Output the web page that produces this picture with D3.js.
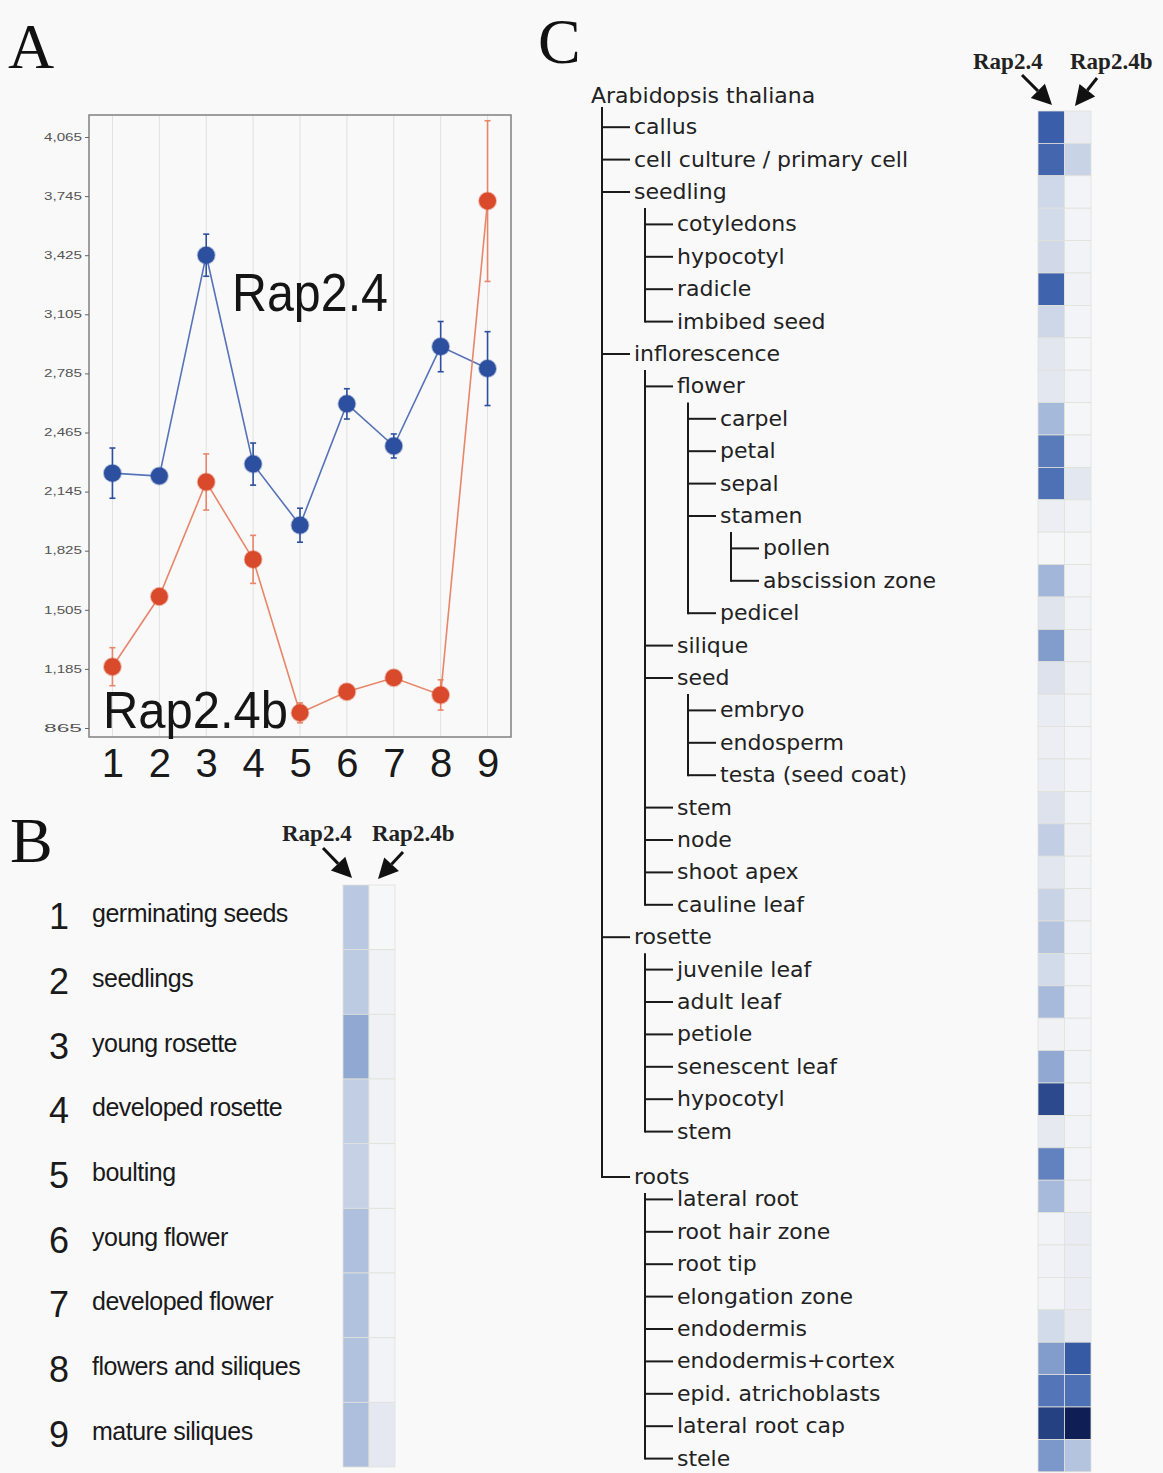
<!DOCTYPE html>
<html><head><meta charset="utf-8">
<script src="https://cdn.jsdelivr.net/npm/d3@7"></script>
<style>body{margin:0;background:#f9f9fa;} svg{display:block;}</style>
</head><body>
<svg id="chart" width="1163" height="1473"></svg>
<script>
// ---------- Data ----------
const stages = [1, 2, 3, 4, 5, 6, 7, 8, 9];
const rap24 = [2245, 2229, 3425, 2294, 1963, 2620, 2392, 2930, 2811];
const rap24Err = [136, 27, 114, 114, 92, 82, 65, 136, 200];
const rap24b = [1197, 1577, 2197, 1778, 947, 1061, 1137, 1044, 3718];
const rap24bErr = [103, 43, 152, 130, 54, 33, 33, 82, 435];
const yTicks = [865, 1185, 1505, 1825, 2145, 2465, 2785, 3105, 3425, 3745, 4065];

const genes = ["Rap2.4", "Rap2.4b"];
const stageNames = ["germinating seeds", "seedlings", "young rosette", "developed rosette", "boulting",
  "young flower", "developed flower", "flowers and siliques", "mature siliques"];
const stageRap24 = [0.37, 0.36, 0.55, 0.33, 0.31, 0.42, 0.41, 0.41, 0.43];
const stageRap24b = [0.01, 0.05, 0.06, 0.05, 0.03, 0.03, 0.03, 0.04, 0.13];

const treeRoot = "Arabidopsis thaliana";
const tissues = ["callus", "cell culture / primary cell", "seedling", "cotyledons", "hypocotyl", "radicle",
  "imbibed seed", "inflorescence", "flower", "carpel", "petal", "sepal", "stamen", "pollen",
  "abscission zone", "pedicel", "silique", "seed", "embryo", "endosperm", "testa (seed coat)", "stem",
  "node", "shoot apex", "cauline leaf", "rosette", "juvenile leaf", "adult leaf", "petiole",
  "senescent leaf", "hypocotyl", "stem", "roots", "lateral root", "root hair zone", "root tip",
  "elongation zone", "endodermis", "endodermis+cortex", "epid. atrichoblasts", "lateral root cap", "stele"];
const tissueDepth = [1, 1, 1, 2, 2, 2, 2, 1, 2, 3, 3, 3, 3, 4, 4, 3, 2, 2, 3, 3, 3, 2, 2, 2, 2,
  1, 2, 2, 2, 2, 2, 2, 1, 2, 2, 2, 2, 2, 2, 2, 2, 2];
const tissueRap24 = [0.85, 0.82, 0.26, 0.24, 0.25, 0.83, 0.27, 0.15, 0.14, 0.47, 0.74, 0.78, 0.08, 0.02,
  0.49, 0.16, 0.60, 0.18, 0.10, 0.08, 0.09, 0.18, 0.33, 0.15, 0.30, 0.40, 0.24, 0.46, 0.06, 0.55,
  0.90, 0.12, 0.71, 0.46, 0.04, 0.05, 0.04, 0.24, 0.60, 0.76, 0.92, 0.62];
const tissueRap24b = [0.10, 0.30, 0.03, 0.03, 0.04, 0.05, 0.03, 0.02, 0.03, 0.02, 0.03, 0.14, 0.04, 0.02,
  0.03, 0.04, 0.05, 0.06, 0.04, 0.03, 0.03, 0.04, 0.06, 0.04, 0.05, 0.04, 0.03, 0.03, 0.03, 0.04,
  0.03, 0.04, 0.03, 0.05, 0.10, 0.09, 0.09, 0.12, 0.86, 0.78, 1.00, 0.40];

// ---------- Setup ----------
const svg = d3.select("#chart");
const heat = d3.scaleLinear()
  .domain([0, 0.15, 0.3, 0.5, 0.7, 0.85, 1])
  .range(["#f7f8fa", "#e2e6ee", "#c8d3e6", "#9fb4d8", "#6585c0", "#3a5eaa", "#0f1f55"]);

function panelLetter(t, x, y) {
  svg.append("text").attr("x", x).attr("y", y).text(t)
    .attr("font-family", "'Liberation Serif','Times New Roman',serif")
    .attr("font-size", 64).attr("fill", "#111");
}
function arrow(x1, y1, x2, y2) {
  const a = Math.atan2(y2 - y1, x2 - x1), L = 20, W = 10;
  const bx = x2 - L * Math.cos(a), by = y2 - L * Math.sin(a);
  svg.append("line").attr("x1", x1).attr("y1", y1).attr("x2", bx).attr("y2", by)
    .attr("stroke", "#111").attr("stroke-width", 3);
  const p = [[x2, y2], [bx + W * Math.sin(a), by - W * Math.cos(a)], [bx - W * Math.sin(a), by + W * Math.cos(a)]];
  svg.append("path").attr("d", "M" + p.join("L") + "Z").attr("fill", "#111");
}
function geneHeader(x1, x2, y) {
  [[genes[0], x1], [genes[1], x2]].forEach(([t, x]) => {
    svg.append("text").attr("x", x).attr("y", y).text(t)
      .attr("font-family", "'Liberation Serif','Times New Roman',serif")
      .attr("font-weight", "bold").attr("font-size", 23).attr("fill", "#222");
  });
}

// ---------- Panel A ----------
panelLetter("A", 8, 68);
const x = d3.scalePoint().domain(stages).range([89, 511]).padding(0.5);
const y = d3.scaleLinear().domain([865, 4065]).range([728, 137]);
const gA = svg.append("g");
gA.selectAll("line.grid").data(stages).join("line")
  .attr("x1", d => x(d)).attr("x2", d => x(d)).attr("y1", 115).attr("y2", 737)
  .attr("stroke", "#e0e0e0").attr("stroke-width", 1);
gA.append("rect").attr("x", 89).attr("y", 115).attr("width", 422).attr("height", 622)
  .attr("fill", "none").attr("stroke", "#808080").attr("stroke-width", 1.5);

const yAx = gA.append("g").attr("transform", "translate(89,0)")
  .call(d3.axisLeft(y).tickValues(yTicks).tickFormat(d3.format(",")).tickSize(4).tickPadding(3));
yAx.select(".domain").remove();
yAx.selectAll("line").attr("stroke", "#666");
yAx.selectAll("text").attr("font-family", "'Liberation Sans',Arial,sans-serif").attr("font-size", 10)
  .attr("fill", "#555").attr("textLength", 38).attr("lengthAdjust", "spacingAndGlyphs");

const xAx = gA.append("g").attr("transform", "translate(0,737)")
  .call(d3.axisBottom(x).tickSize(0).tickPadding(12));
xAx.select(".domain").remove();
xAx.selectAll("text").attr("font-family", "'Liberation Sans',Arial,sans-serif").attr("font-size", 40)
  .attr("fill", "#1a1a1a");

function series(vals, errs, lineCol, dotCol, errCol) {
  const pts = stages.map((s, i) => ({ s, v: vals[i], e: errs[i] }));
  gA.append("path").datum(pts)
    .attr("d", d3.line().x(d => x(d.s)).y(d => y(d.v)))
    .attr("fill", "none").attr("stroke", lineCol).attr("stroke-width", 1.6);
  const eb = gA.append("g").attr("stroke", errCol).attr("stroke-width", 1.6);
  pts.forEach(d => {
    eb.append("line").attr("x1", x(d.s)).attr("x2", x(d.s)).attr("y1", y(d.v - d.e)).attr("y2", y(d.v + d.e));
    [d.v - d.e, d.v + d.e].forEach(v => eb.append("line")
      .attr("x1", x(d.s) - 3).attr("x2", x(d.s) + 3).attr("y1", y(v)).attr("y2", y(v)));
  });
  gA.append("g").selectAll("circle").data(pts).join("circle")
    .attr("cx", d => x(d.s)).attr("cy", d => y(d.v)).attr("r", 8.5)
    .attr("fill", dotCol).attr("stroke", dotCol).attr("stroke-opacity", 0.35).attr("stroke-width", 2);
}
series(rap24, rap24Err, "#5672b8", "#2d4f9f", "#2d4f9f");
series(rap24b, rap24bErr, "#e8866a", "#d94a2c", "#e8866a");

gA.append("text").attr("x", 232).attr("y", 311).text(genes[0])
  .attr("font-family", "'Liberation Sans',Arial,sans-serif").attr("font-size", 54).attr("fill", "#151515")
  .attr("textLength", 156).attr("lengthAdjust", "spacingAndGlyphs");
gA.append("text").attr("x", 103).attr("y", 728).text(genes[1])
  .attr("font-family", "'Liberation Sans',Arial,sans-serif").attr("font-size", 52).attr("fill", "#151515")
  .attr("textLength", 185).attr("lengthAdjust", "spacingAndGlyphs");

// ---------- Panel B ----------
panelLetter("B", 10, 862);
geneHeader(282, 372, 841);
arrow(323, 848, 352, 878);
arrow(403, 852, 378, 879);
const yB = d3.scaleBand().domain(d3.range(stageNames.length)).range([885, 1467]);
const xB = d3.scaleBand().domain(genes).range([343, 395]);
const gB = svg.append("g");
const cellsB = [];
stageNames.forEach((n, i) => {
  cellsB.push({ i, g: genes[0], v: stageRap24[i] });
  cellsB.push({ i, g: genes[1], v: stageRap24b[i] });
});
gB.selectAll("rect").data(cellsB).join("rect")
  .attr("x", d => xB(d.g)).attr("y", d => yB(d.i)).attr("width", xB.bandwidth()).attr("height", yB.bandwidth())
  .attr("fill", d => heat(d.v)).attr("stroke", "#e2e2da").attr("stroke-width", 0.8);
gB.selectAll("text.num").data(stageNames).join("text")
  .attr("x", 59).attr("y", (d, i) => yB(i) + yB.bandwidth() / 2 + 12).attr("text-anchor", "middle")
  .text((d, i) => stages[i])
  .attr("font-family", "'Liberation Sans',Arial,sans-serif").attr("font-size", 36).attr("fill", "#1a1a1a");
gB.selectAll("text.lab").data(stageNames).join("text")
  .attr("x", 92).attr("y", (d, i) => yB(i) + yB.bandwidth() / 2 + 5)
  .text(d => d)
  .attr("font-family", "'Liberation Sans',Arial,sans-serif").attr("font-size", 25)
  .attr("letter-spacing", -0.5).attr("fill", "#1a1a1a");

// ---------- Panel C ----------
panelLetter("C", 538, 63);
geneHeader(973, 1070, 69);
arrow(1022, 75, 1052, 105);
arrow(1097, 78, 1075, 106);
const yC = d3.scaleBand().domain(d3.range(tissues.length)).range([111, 111 + 32.4 * tissues.length]);
const xC = d3.scaleBand().domain(genes).range([1038, 1091]);
const gC = svg.append("g");
const cellsC = [];
tissues.forEach((n, i) => {
  cellsC.push({ i, g: genes[0], v: tissueRap24[i] });
  cellsC.push({ i, g: genes[1], v: tissueRap24b[i] });
});
gC.selectAll("rect").data(cellsC).join("rect")
  .attr("x", d => xC(d.g)).attr("y", d => yC(d.i)).attr("width", xC.bandwidth()).attr("height", yC.bandwidth())
  .attr("fill", d => heat(d.v)).attr("stroke", "#e2e2da").attr("stroke-width", 0.8);

// tree
const lineX = d => 602 + (d - 1) * 43;
const rowY = i => yC(i) + yC.bandwidth() / 2 + (i === 32 ? 13 : i > 32 ? 3 : 0);
const rootY = yC(0) - 16;
const tree = svg.append("g");
tree.append("text").attr("x", 591).attr("y", rootY + 8).text(treeRoot)
  .attr("font-family", "'DejaVu Sans',Verdana,sans-serif").attr("font-size", 22).attr("fill", "#222");
const parent = tissues.map((t, i) => {
  for (let j = i - 1; j >= 0; j--) if (tissueDepth[j] === tissueDepth[i] - 1) return j;
  return -1;
});
const groups = d3.group(d3.range(tissues.length), i => parent[i]);
const ts = tree.append("g").attr("stroke", "#1a1a1a").attr("stroke-width", 2).attr("fill", "none");
groups.forEach((kids, p) => {
  const d = tissueDepth[kids[0]];
  const top = p < 0 ? rootY + 12 : rowY(p) + 16;
  const last = kids[kids.length - 1];
  ts.append("line").attr("x1", lineX(d)).attr("x2", lineX(d)).attr("y1", top).attr("y2", rowY(last) + 1);
  kids.forEach(k => ts.append("line").attr("x1", lineX(d)).attr("x2", lineX(d) + 28)
    .attr("y1", rowY(k)).attr("y2", rowY(k)));
});
tree.selectAll("text.t").data(tissues).join("text")
  .attr("x", (d, i) => lineX(tissueDepth[i]) + 32).attr("y", (d, i) => rowY(i) + 7)
  .text(d => d)
  .attr("font-family", "'DejaVu Sans',Verdana,sans-serif").attr("font-size", 22).attr("fill", "#222");
</script>
</body></html>
